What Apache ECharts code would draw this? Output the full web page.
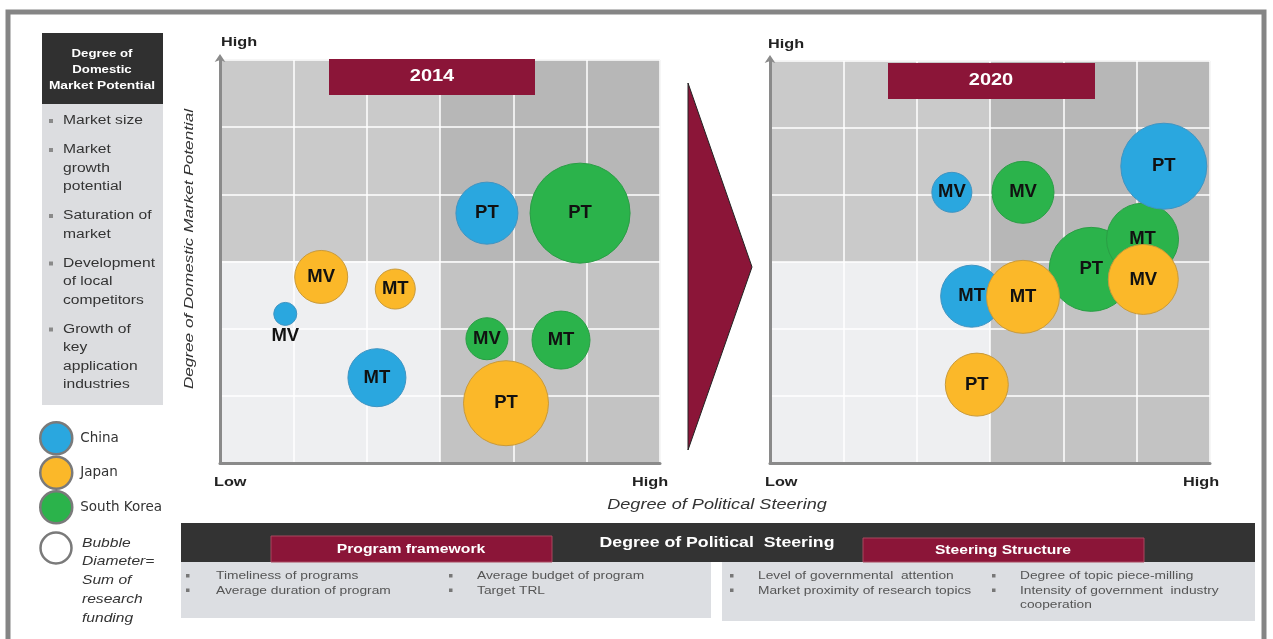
<!DOCTYPE html>
<html>
<head>
<meta charset="utf-8">
<script src="https://cdn.jsdelivr.net/npm/echarts@6/dist/echarts.min.js"></script>
<style>
html,body{margin:0;padding:0;background:#fff;}
#chart{width:1273px;height:639px;}
</style>
</head>
<body>
<div id="chart"></div>
<script>
// ---- data (x: political steering 0-6, y: market potential 0-6, bubble diameter, label)
const countries = ['China', 'Japan', 'South Korea'];
const colors = ['#2aa7df', '#fbb829', '#2bb34b'];
const borders = ['#3f94c2', '#c99a3a', '#2a9e45'];
const years = ['2014', '2020'];

const china2014 = [[3.64, 3.72, 62, 'PT'], [0.89, 2.22, 23, 'MV'], [2.14, 1.27, 58, 'MT']];
const japan2014 = [[1.38, 2.77, 53, 'MV'], [2.39, 2.59, 40, 'MT'], [3.90, 0.89, 85, 'PT']];
const korea2014 = [[4.91, 3.72, 100, 'PT'], [3.64, 1.85, 42, 'MV'], [4.65, 1.83, 58, 'MT']];

const china2020 = [[2.48, 4.04, 40, 'MV'], [5.37, 4.43, 86, 'PT'], [2.75, 2.49, 62, 'MT']];
const japan2020 = [[5.09, 2.74, 70, 'MV'], [3.45, 2.48, 73, 'MT'], [2.82, 1.17, 63, 'PT']];
const korea2020 = [[3.45, 4.04, 62, 'MV'], [4.38, 2.89, 84, 'PT'], [5.08, 3.34, 72, 'MT']];

const marketFactors = [
  ['Market size'],
  ['Market', 'growth', 'potential'],
  ['Saturation of', 'market'],
  ['Development', 'of local', 'competitors'],
  ['Growth of', 'key', 'application', 'industries']
];
const programFramework = [['Timeliness of programs', 'Average duration of program'], ['Average budget of program', 'Target TRL']];
const steeringStructure = [['Level of governmental  attention', 'Market proximity of research topics'], ['Degree of topic piece-milling', 'Intensity of government  industry', 'cooperation']];

// ---- chart
const FONT = '"Liberation Sans", Arial, sans-serif';
const STRETCH = 1.25;
const chart = echarts.init(document.getElementById('chart'));

const grids = [
  {left: 220, top: 60, width: 440, height: 403},
  {left: 770, top: 61, width: 440, height: 402}
];

function axisX(i) {
  return {
    gridIndex: i, type: 'value', min: 0, max: 6, interval: 1, z: 2,
    axisLabel: {show: false}, axisTick: {show: false},
    axisLine: {show: true, lineStyle: {color: '#8a8a8a', width: 3}},
    splitLine: {show: true, lineStyle: {color: '#ffffff', width: 1.5}}
  };
}
function axisY(i) {
  return {
    gridIndex: i, type: 'value', min: 0, max: 6, interval: 1, z: 2,
    axisLabel: {show: false}, axisTick: {show: false},
    axisLine: {show: true, symbol: ['none', 'arrow'], symbolSize: [8, 8], symbolOffset: [0, 6], lineStyle: {color: '#8a8a8a', width: 3}},
    splitLine: {show: true, lineStyle: {color: '#ffffff', width: 1.5}}
  };
}

function bgSeries(i) {
  return {
    type: 'scatter', xAxisIndex: i, yAxisIndex: i, data: [], z: 1, silent: true,
    markArea: {
      silent: true,
      data: [
        [{coord: [0, 3], itemStyle: {color: '#cacaca'}}, {coord: [3, 6]}],
        [{coord: [3, 3], itemStyle: {color: '#b7b7b7'}}, {coord: [6, 6]}],
        [{coord: [0, 0], itemStyle: {color: '#eeeff1'}}, {coord: [3, 3]}],
        [{coord: [3, 0], itemStyle: {color: '#c3c3c3'}}, {coord: [6, 3]}]
      ]
    }
  };
}

function bubbleSeries(name, ci, data, i) {
  return {
    name: name, type: 'scatter', xAxisIndex: i, yAxisIndex: i, z: 3,
    symbolSize: function (v) { return v[2]; },
    itemStyle: {color: colors[ci], borderColor: borders[ci], borderWidth: 1, opacity: 1},
    emphasis: {disabled: true},
    data: data.map(function (d) {
      const item = {value: [d[0], d[1], d[2]], name: d[3]};
      if (d[2] < 30) item.label = {position: 'bottom', distance: 1};
      return item;
    }),
    label: {show: true, position: 'inside', formatter: '{b}', color: '#111', fontWeight: 'bold', fontSize: 18.5, fontFamily: FONT}
  };
}

const graphic = [];
function txt(t, x, y, o) {
  o = o || {};
  graphic.push({
    type: 'text', z: 50, rotation: o.rotation || 0, x: x, y: y, scaleX: o.scaleX || STRETCH,
    style: {
      text: t, x: 0, y: 0,
      font: (o.style || 'normal') + ' ' + (o.weight || 'normal') + ' ' + (o.size || 12) + 'px ' + FONT,
      fill: o.color || '#333', textAlign: o.align || 'left', textVerticalAlign: 'middle'
    }
  });
}
function rect(x, y, w, h, fill, stroke) {
  graphic.push({type: 'rect', z: 40, shape: {x: x, y: y, width: w, height: h}, style: {fill: fill, stroke: stroke || null, lineWidth: stroke ? 1 : 0}});
}

// outer frame
graphic.push({type: 'rect', z: 40, shape: {x: 8, y: 12, width: 1256, height: 640}, style: {fill: null, stroke: '#858585', lineWidth: 5}});

// left description box
rect(42, 33, 121, 71, '#303030');
txt('Degree of', 102, 54, {color: '#fff', weight: 'bold', size: 11, align: 'center', scaleX: 1.2});
txt('Domestic', 102, 70, {color: '#fff', weight: 'bold', size: 11, align: 'center', scaleX: 1.2});
txt('Market Potential', 102, 86, {color: '#fff', weight: 'bold', size: 11, align: 'center', scaleX: 1.25});
rect(42, 104, 121, 301, '#dcdde0');
let yy = 121;
marketFactors.forEach(function (lines) {
  rect(49, yy - 2, 4, 4, '#8a8a8a');
  lines.forEach(function (l) { txt(l, 63, yy, {size: 12.5, color: '#333'}); yy += 18.5; });
  yy += 10.5;
});

// Bubble diameter legend entry
graphic.push({type: 'circle', z: 40, shape: {cx: 56, cy: 548, r: 15.5}, style: {fill: '#fff', stroke: '#7a7a7a', lineWidth: 2.5}});
['Bubble', 'Diameter=', 'Sum of', 'research', 'funding'].forEach(function (l, k) {
  txt(l, 82, 543 + k * 18.8, {size: 13, style: 'italic', color: '#333', scaleX: 1.2});
});

// y-axis title
txt('Degree of Domestic Market Potential', 189, 249, {size: 13.5, style: 'italic', color: '#333', align: 'center', rotation: Math.PI / 2, scaleX: 1.27});

// High / Low labels
txt('High', 221, 42, {weight: 'bold', size: 13, color: '#222'});
txt('Low', 214, 482, {weight: 'bold', size: 13, color: '#222'});
txt('High', 632, 482, {weight: 'bold', size: 13, color: '#222'});
txt('High', 768, 44, {weight: 'bold', size: 13, color: '#222'});
txt('Low', 765, 482, {weight: 'bold', size: 13, color: '#222'});
txt('High', 1183, 482, {weight: 'bold', size: 13, color: '#222'});
txt('Degree of Political Steering', 717, 505, {size: 14.5, style: 'italic', color: '#333', align: 'center'});

// year banners
rect(329, 59, 206, 36, '#8b1538');
txt(years[0], 432, 77, {color: '#fff', weight: 'bold', size: 16, align: 'center'});
rect(888, 63, 207, 36, '#8b1538');
txt(years[1], 991, 81, {color: '#fff', weight: 'bold', size: 16, align: 'center'});

// arrow
graphic.push({type: 'polygon', z: 40, shape: {points: [[688, 83], [752, 267], [688, 450]]}, style: {fill: '#8b1538', stroke: '#222', lineWidth: 1}});

// bottom bar
rect(181, 523, 1074, 39, '#333333');
rect(181, 562, 530, 56, '#dcdee2');
rect(722, 562, 533, 59, '#dcdee2');
rect(271, 536, 281, 26, '#8b1538', '#a8485f');
txt('Program framework', 411, 549, {color: '#fff', weight: 'bold', size: 13, align: 'center', scaleX: 1.21});
rect(863, 538, 281, 24, '#8b1538', '#a8485f');
txt('Steering Structure', 1003, 550, {color: '#fff', weight: 'bold', size: 13, align: 'center', scaleX: 1.2});
txt('Degree of Political  Steering', 717, 543, {color: '#fff', weight: 'bold', size: 14.5, align: 'center', scaleX: 1.22});

function bulletCols(cols, bx, tx, noBullet) {
  cols.forEach(function (lines, c) {
    lines.forEach(function (l, k) {
      const y = 576 + k * 14.5;
      if (!(noBullet && c === 1 && k === 2)) rect(bx[c], y - 2, 3.5, 3.5, '#777');
      txt(l, tx[c], y, {size: 11, color: '#555'});
    });
  });
}
bulletCols(programFramework, [186, 449], [216, 477], false);
bulletCols(steeringStructure, [730, 992], [758, 1020], true);

const option = {
  backgroundColor: '#ffffff',
  animation: false,
  grid: grids.map(function (g) { return Object.assign({show: true, borderColor: '#b5b5b5', borderWidth: 1, backgroundColor: 'transparent'}, g); }),
  xAxis: [axisX(0), axisX(1)],
  yAxis: [axisY(0), axisY(1)],
  legend: {
    data: countries, orient: 'vertical', left: 34, top: 416, itemWidth: 32, itemHeight: 32, itemGap: 0,
    icon: 'circle', selectedMode: false,
    itemStyle: {borderColor: '#7a7a7a', borderWidth: 2.5},
    textStyle: {fontSize: 13.5, color: '#333', fontFamily: '"DejaVu Sans", sans-serif', padding: [0, 0, 0, 3]}
  },
  series: [
    bgSeries(0), bgSeries(1),
    bubbleSeries(countries[2], 2, korea2014, 0),
    bubbleSeries(countries[0], 0, china2014, 0),
    bubbleSeries(countries[1], 1, japan2014, 0),
    bubbleSeries(countries[2], 2, korea2020, 1),
    bubbleSeries(countries[0], 0, china2020, 1),
    bubbleSeries(countries[1], 1, japan2020, 1)
  ],
  graphic: graphic
};
chart.setOption(option);
</script>
</body>
</html>
